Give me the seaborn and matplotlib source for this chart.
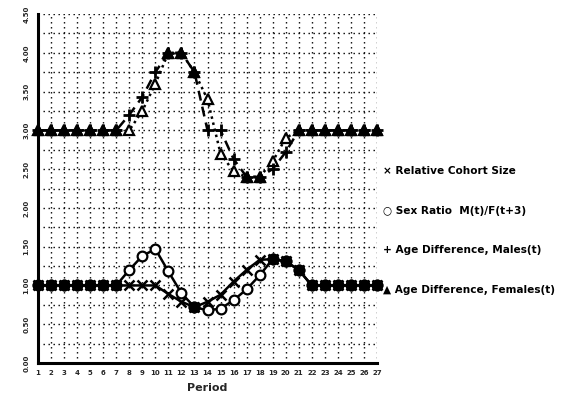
import numpy as np
import pandas as pd
import matplotlib
matplotlib.use("Agg")
import matplotlib.pyplot as plt
import seaborn as sns

# ---- data ----
periods = list(range(1, 28))
cohort_size = [1.00, 1.00, 1.00, 1.00, 1.00, 1.00, 1.00, 1.00, 1.00, 1.00, 0.89, 0.79, 0.72, 0.79,
               0.88, 1.05, 1.20, 1.33, 1.34, 1.31, 1.20, 1.00, 1.00, 1.00, 1.00, 1.00, 1.00]
sex_ratio = [1.00, 1.00, 1.00, 1.00, 1.00, 1.00, 1.00, 1.20, 1.38, 1.47, 1.18, 0.90, 0.72, 0.68,
             0.70, 0.81, 0.95, 1.13, 1.34, 1.31, 1.20, 1.00, 1.00, 1.00, 1.00, 1.00, 1.00]
age_diff_males = [3.00, 3.00, 3.00, 3.00, 3.00, 3.00, 3.00, 3.20, 3.43, 3.75, 4.00, 4.00, 3.75, 3.00,
                  3.00, 2.63, 2.40, 2.40, 2.50, 2.72, 3.00, 3.00, 3.00, 3.00, 3.00, 3.00, 3.00]
age_diff_females = [3.00, 3.00, 3.00, 3.00, 3.00, 3.00, 3.00, 3.00, 3.25, 3.60, 4.00, 4.00, 3.75, 3.40,
                    2.70, 2.47, 2.40, 2.40, 2.60, 2.90, 3.00, 3.00, 3.00, 3.00, 3.00, 3.00, 3.00]
legend_labels = ["\u00d7 Relative Cohort Size", "\u25cb Sex Ratio  M(t)/F(t+3)",
                 "+ Age Difference, Males(t)", "\u25b2 Age Difference, Females(t)"]
y_ticks = [0.0, 0.5, 1.0, 1.5, 2.0, 2.5, 3.0, 3.5, 4.0, 4.5]

df = pd.DataFrame({"Period": periods, "cohort": cohort_size, "sex": sex_ratio,
                   "males": age_diff_males, "females": age_diff_females})

sns.set_style("white")
plt.rcParams["font.family"] = ["DejaVu Sans"]
plt.rcParams["font.weight"] = "bold"

fig = plt.figure(figsize=(5.64, 3.94), dpi=100)
ax = fig.add_axes([38 / 564, 1 - 363 / 394, (377 - 38) / 564, (363 - 14) / 394])

ax.set_xlim(1, 27)
ax.set_ylim(0, 4.5)

# grid
ax.set_xticks(periods)
ax.set_yticks(np.arange(0, 4.51, 0.25), minor=True)
ax.set_yticks(y_ticks)
for xv in periods:
    ax.axvline(xv, color="black", lw=1.0, ls=(0, (1, 2.6)), zorder=1)
for yv in np.arange(0.25, 4.51, 0.25):
    ax.axhline(yv, color="black", lw=1.0, ls=(0, (1, 2.6)), zorder=1)

# lines
sns.lineplot(data=df, x="Period", y="cohort", ax=ax, color="black", lw=1.8,
             marker="x", markersize=6.5, mec="black", mew=1.8, clip_on=False, zorder=3)
sns.lineplot(data=df, x="Period", y="sex", ax=ax, color="black", lw=1.8,
             marker="o", markersize=7, mfc="white", mec="black", mew=1.6, clip_on=False, zorder=3)
sns.lineplot(data=df, x="Period", y="females", ax=ax, color="black", lw=1.8,
             linestyle=(0, (1, 1.5)), marker="^", markersize=7, mfc="white", mec="black",
             mew=1.6, clip_on=False, zorder=3)
sns.lineplot(data=df, x="Period", y="males", ax=ax, color="black", lw=1.8,
             linestyle=(0, (4, 2.5)), marker="+", markersize=8, mec="black", mew=2.0,
             clip_on=False, zorder=4)

# filled markers where series coincide
same_low = np.isclose(df["cohort"], df["sex"], atol=0.03)
ax.plot(df["Period"][same_low], df["sex"][same_low], "o", color="black", markersize=7.5,
        clip_on=False, zorder=5)
same_up = np.isclose(df["males"], df["females"], atol=0.03)
ax.plot(df["Period"][same_up], df["females"][same_up], "^", color="black", markersize=7.5,
        clip_on=False, zorder=5)

# axes style
for s in ["top", "right"]:
    ax.spines[s].set_visible(False)
for s in ["left", "bottom"]:
    ax.spines[s].set_linewidth(2.2)
    ax.spines[s].set_color("black")
ax.tick_params(axis="both", which="both", direction="in", length=4, width=1.3, color="black")
ax.set_xticklabels([str(p) for p in periods], fontsize=5, fontweight="bold")
ax.set_yticklabels([f"{v:.2f}" for v in y_ticks], fontsize=5, fontweight="bold", rotation=90,
                   va="center")
ax.tick_params(axis="x", pad=5)
ax.tick_params(axis="y", pad=6)
ax.set_xlabel("Period", fontsize=8, fontweight="bold", labelpad=5)
ax.set_ylabel("")

# legend as text
leg_y = [171, 211, 250, 290]
for lab, yy in zip(legend_labels, leg_y):
    fig.text(383 / 564, 1 - yy / 394, lab, fontsize=7.6, fontweight="bold", color="black",
             va="center", ha="left")

fig.savefig("out.png", dpi=100)
